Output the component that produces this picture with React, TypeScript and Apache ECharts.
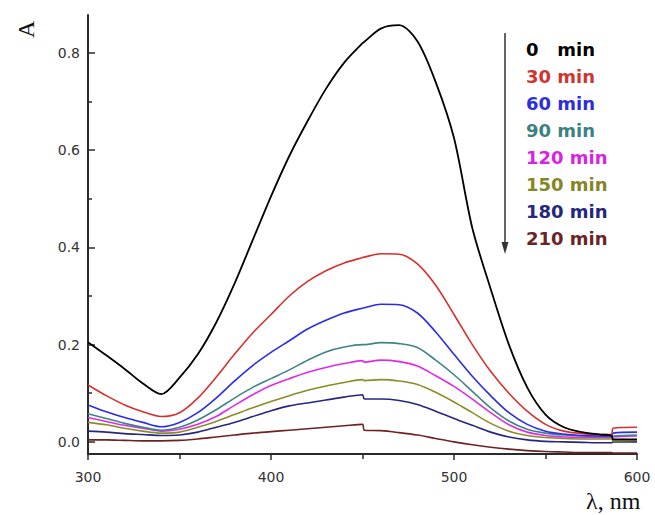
import React, { useEffect, useRef } from "react";
import * as echarts from "echarts";

const wavelengths = [300, 310, 320, 330, 340, 350, 360, 370, 380, 390, 400, 410, 420, 430, 440, 450, 451, 460, 470, 480, 490, 500, 510, 520, 530, 540, 550, 560, 570, 580, 586, 587, 600];

const min0 = [0.205, 0.178, 0.15, 0.12, 0.098, 0.132, 0.18, 0.245, 0.325, 0.415, 0.505, 0.588, 0.66, 0.726, 0.78, 0.82, 0.823, 0.85, 0.857, 0.824, 0.74, 0.625, 0.44, 0.315, 0.2, 0.112, 0.056, 0.03, 0.02, 0.015, 0.013, 0.005, 0.005];
const min30 = [0.117, 0.095, 0.076, 0.062, 0.052, 0.06, 0.09, 0.133, 0.18, 0.224, 0.262, 0.3, 0.33, 0.352, 0.368, 0.379, 0.38, 0.387, 0.386, 0.366, 0.322, 0.262, 0.2, 0.145, 0.1, 0.063, 0.036, 0.022, 0.017, 0.015, 0.015, 0.028, 0.03];
const min60 = [0.076, 0.062, 0.05, 0.04, 0.031, 0.04, 0.06, 0.09, 0.125, 0.157, 0.184, 0.208, 0.232, 0.25, 0.265, 0.275, 0.276, 0.283, 0.282, 0.265, 0.226, 0.18, 0.135, 0.095, 0.06, 0.036, 0.022, 0.016, 0.013, 0.012, 0.012, 0.018, 0.02];
const min90 = [0.058, 0.048, 0.038, 0.03, 0.024, 0.03, 0.045, 0.066, 0.09, 0.112, 0.13, 0.148, 0.168, 0.185, 0.195, 0.2, 0.2, 0.204, 0.202, 0.194, 0.168, 0.138, 0.104, 0.07, 0.043, 0.026, 0.018, 0.014, 0.012, 0.011, 0.011, 0.012, 0.014];
const min120 = [0.05, 0.042, 0.034, 0.028, 0.022, 0.026, 0.036, 0.052, 0.075, 0.097, 0.116, 0.13, 0.143, 0.153, 0.161, 0.167, 0.164, 0.168, 0.165, 0.156, 0.136, 0.114, 0.088, 0.06, 0.035, 0.02, 0.013, 0.01, 0.009, 0.009, 0.009, 0.01, 0.012];
const min150 = [0.04, 0.035, 0.028, 0.022, 0.018, 0.02, 0.03, 0.042, 0.056, 0.07, 0.083, 0.095, 0.106, 0.115, 0.122, 0.128, 0.126, 0.128, 0.125, 0.118, 0.102, 0.082, 0.06, 0.038, 0.022, 0.013, 0.009, 0.007, 0.006, 0.006, 0.006, 0.002, 0.003];
const min180 = [0.022, 0.02, 0.017, 0.015, 0.013, 0.014, 0.02, 0.03, 0.04, 0.052, 0.064, 0.074, 0.08, 0.086, 0.092, 0.097, 0.088, 0.088, 0.085, 0.077, 0.063, 0.048, 0.034, 0.02, 0.01, 0.004, 0.001, 0.0, -0.001, -0.002, -0.002, 0.0, 0.0];
const min210 = [0.004, 0.004, 0.003, 0.002, 0.002, 0.003, 0.006, 0.01, 0.014, 0.018, 0.021, 0.024, 0.027, 0.03, 0.033, 0.036, 0.024, 0.023, 0.019, 0.014, 0.007, 0.0, -0.006, -0.011, -0.015, -0.018, -0.02, -0.021, -0.022, -0.022, -0.022, -0.023, -0.023];

const seriesNames = ["0 min", "30 min", "60 min", "90 min", "120 min", "150 min", "180 min", "210 min"];
const seriesValues = [min0, min30, min60, min90, min120, min150, min180, min210];
const lineColors = ["#000000", "#d8302c", "#2b2bea", "#3f8585", "#e02ae6", "#8c8c26", "#262682", "#6e2222"];
const legendColors = ["#000000", "#d0342e", "#2d2de0", "#3d8181", "#d624e0", "#858526", "#26267c", "#6a2424"];

const yLabelTicks = [0, 0.2, 0.4, 0.6, 0.8];
const yMinorTicks = [0.1, 0.3, 0.5, 0.7];

export default function App() {
  const ref = useRef<HTMLDivElement>(null);
  useEffect(() => {
    if (!ref.current) return;
    const chart = echarts.init(ref.current, null, { renderer: "svg" });
    const axisColor = "#2a2a2a";
    const grid = { left: 88, right: 18, top: 15, bottom: 61 };
    chart.setOption({
      animation: false,
      backgroundColor: "#ffffff",
      grid,
      legend: {
        orient: "vertical",
        left: 516,
        top: 34,
        icon: "none",
        itemWidth: 0,
        itemHeight: 14,
        itemGap: 7,
        selectedMode: false,
        formatter: (n: string) => (n === "0 min" ? "0   min" : n),
        data: seriesNames.map((name, i) => ({
          name,
          textStyle: {
            color: legendColors[i],
            fontFamily: "DejaVu Sans",
            fontWeight: "bold",
            fontSize: 18,
            lineHeight: 20,
          },
        })),
      },
      xAxis: {
        type: "value",
        min: 300,
        max: 600,
        interval: 100,
        axisLine: { onZero: false, lineStyle: { color: axisColor, width: 2 } },
        axisTick: { show: true, inside: false, length: 6, lineStyle: { color: axisColor, width: 1.5 } },
        minorTick: { show: true, splitNumber: 2, length: 5, lineStyle: { color: axisColor, width: 1.5 } },
        splitLine: { show: false },
        axisLabel: { margin: 16, color: "#333", fontFamily: "DejaVu Sans", fontSize: 14 },
      },
      yAxis: [
        {
          type: "value",
          min: -0.025,
          max: 0.878,
          axisLine: { show: true, lineStyle: { color: axisColor, width: 2 } },
          axisTick: {
            show: true,
            inside: true,
            length: 7,
            customValues: yLabelTicks,
            lineStyle: { color: axisColor, width: 1.5 },
          },
          splitLine: { show: false },
          axisLabel: {
            margin: 8,
            color: "#333",
            fontFamily: "DejaVu Sans",
            fontSize: 14,
            customValues: yLabelTicks,
            formatter: (v: number) => v.toFixed(1),
          },
        },
        {
          type: "value",
          min: -0.025,
          max: 0.878,
          position: "left",
          axisLine: { show: false },
          axisTick: {
            show: true,
            inside: true,
            length: 4,
            customValues: yMinorTicks,
            lineStyle: { color: axisColor, width: 1.5 },
          },
          splitLine: { show: false },
          axisLabel: { show: false },
        },
      ],
      graphic: [
        {
          type: "text",
          x: 14,
          y: 38,
          rotation: Math.PI / 2,
          style: { text: "A", font: "24px 'Liberation Serif'", fill: "#111" },
        },
        {
          type: "text",
          x: 586,
          y: 513,
          style: { text: "λ, nm", font: "24px 'Liberation Serif'", fill: "#111", textVerticalAlign: "bottom", verticalAlign: "bottom" },
        },
        {
          type: "line",
          shape: { x1: 505, y1: 33, x2: 505, y2: 246 },
          style: { stroke: "#333", lineWidth: 1.5 },
        },
        {
          type: "polygon",
          shape: { points: [[501.5, 242], [508.5, 242], [505, 254]] },
          style: { fill: "#333" },
        },
      ],
      series: seriesNames.map((name, i) => ({
        name,
        type: "line",
        showSymbol: false,
        smooth: 0.3,
        lineStyle: { color: lineColors[i], width: i === 0 ? 1.8 : 1.6 },
        itemStyle: { color: lineColors[i] },
        data: wavelengths.map((w, k) => [w, seriesValues[i][k]]),
        z: 10 - i,
      })),
    });
    return () => chart.dispose();
  }, []);
  return <div ref={ref} style={{ width: 655, height: 515, position: "absolute", left: 0, top: 0 }} />;
}
